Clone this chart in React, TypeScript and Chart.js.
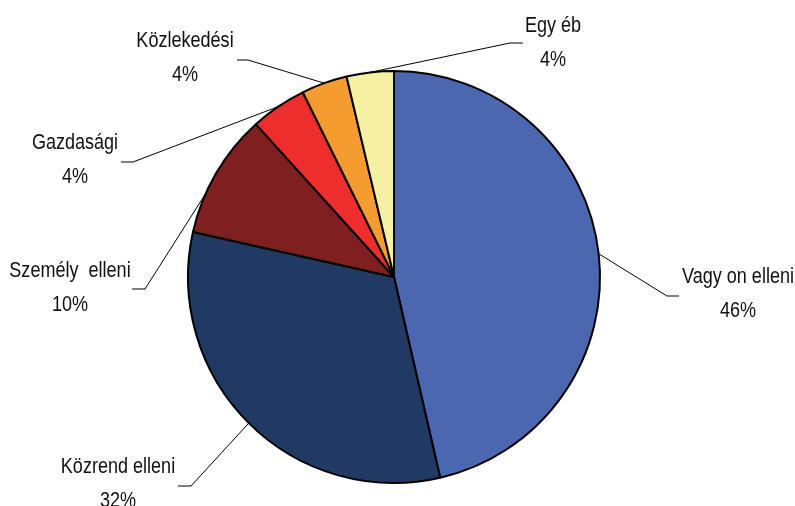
import React, { useEffect, useRef } from "react";
import { Chart, registerables } from "chart.js";

Chart.register(...registerables);

const categories = ["Vagy on elleni", "Közrend elleni", "Személy  elleni", "Gazdasági", "Közlekedési", "Egy éb"];
const shares = [46.4, 32.1, 9.8, 4.4, 3.6, 3.7];
const colors = ["#4A67B0", "#203A63", "#7F1F1F", "#EE2D2D", "#F59C30", "#F5F0A2"];

// label layout: text centre x, first-line baseline y, elbow start x, elbow end x, elbow y, anchor fraction within slice
const LABEL_LAYOUT = [
  { x: 738, y: 283, hx1: 679, hx2: 667, hy: 296, f: 0.5 },
  { x: 118, y: 473, hx1: 178, hx2: 191, hy: 486, f: 0.5 },
  { x: 70, y: 277, hx1: 132, hx2: 145, hy: 289, f: 0.32 },
  { x: 75, y: 149, hx1: 121, hx2: 133, hy: 162, f: 0.5 },
  { x: 185, y: 47, hx1: 237, hx2: 248, hy: 60, f: 0.5 },
  { x: 553, y: 32, hx1: 523, hx2: 510, hy: 43, f: 0.5 },
];

const FONT = '22px "Liberation Sans", Arial, sans-serif';
const NARROW = 0.82;

const labelPlugin = {
  id: "pieLabels",
  afterDatasetsDraw(chart: any) {
    const ctx = chart.ctx as CanvasRenderingContext2D;
    const meta = chart.getDatasetMeta(0);
    const data = chart.data.datasets[0].data as number[];
    const total = data.reduce((a, b) => a + b, 0);
    meta.data.forEach((arc: any, i: number) => {
      const L = LABEL_LAYOUT[i];
      if (!L) return;
      const p = arc.getProps(["x", "y", "startAngle", "endAngle", "outerRadius"], true);
      const ang = p.startAngle + (p.endAngle - p.startAngle) * L.f;
      const ex = p.x + Math.cos(ang) * p.outerRadius;
      const ey = p.y + Math.sin(ang) * p.outerRadius;
      ctx.save();
      ctx.strokeStyle = "#000";
      ctx.lineWidth = 1;
      ctx.beginPath();
      ctx.moveTo(L.hx1, L.hy);
      ctx.lineTo(L.hx2, L.hy);
      ctx.lineTo(ex, ey);
      ctx.stroke();
      ctx.translate(L.x, 0);
      ctx.scale(NARROW, 1);
      ctx.fillStyle = "#111";
      ctx.font = FONT;
      ctx.textAlign = "center";
      ctx.textBaseline = "alphabetic";
      ctx.fillText(String(chart.data.labels[i]), 0, L.y);
      ctx.fillText(Math.round((data[i] / total) * 100) + "%", 0, L.y + 34);
      ctx.restore();
    });
  },
};

export default function App() {
  const ref = useRef<HTMLCanvasElement | null>(null);
  useEffect(() => {
    document.body.style.margin = "0";
    if (!ref.current) return;
    const chart = new Chart(ref.current, {
      type: "pie",
      data: {
        labels: categories,
        datasets: [
          {
            data: shares,
            backgroundColor: colors,
            borderColor: "#000",
            borderWidth: 2,
          },
        ],
      },
      options: {
        animation: false,
        responsive: false,
        maintainAspectRatio: false,
        layout: { padding: { left: 180, right: 187, top: 70, bottom: 22 } },
        plugins: {
          legend: { display: false },
          tooltip: { enabled: false },
        },
      },
      plugins: [labelPlugin],
    });
    return () => chart.destroy();
  }, []);
  return (
    <div style={{ width: 795, height: 506, background: "#fff" }}>
      <canvas ref={ref} width={795} height={506} style={{ width: 795, height: 506, display: "block" }} />
    </div>
  );
}
